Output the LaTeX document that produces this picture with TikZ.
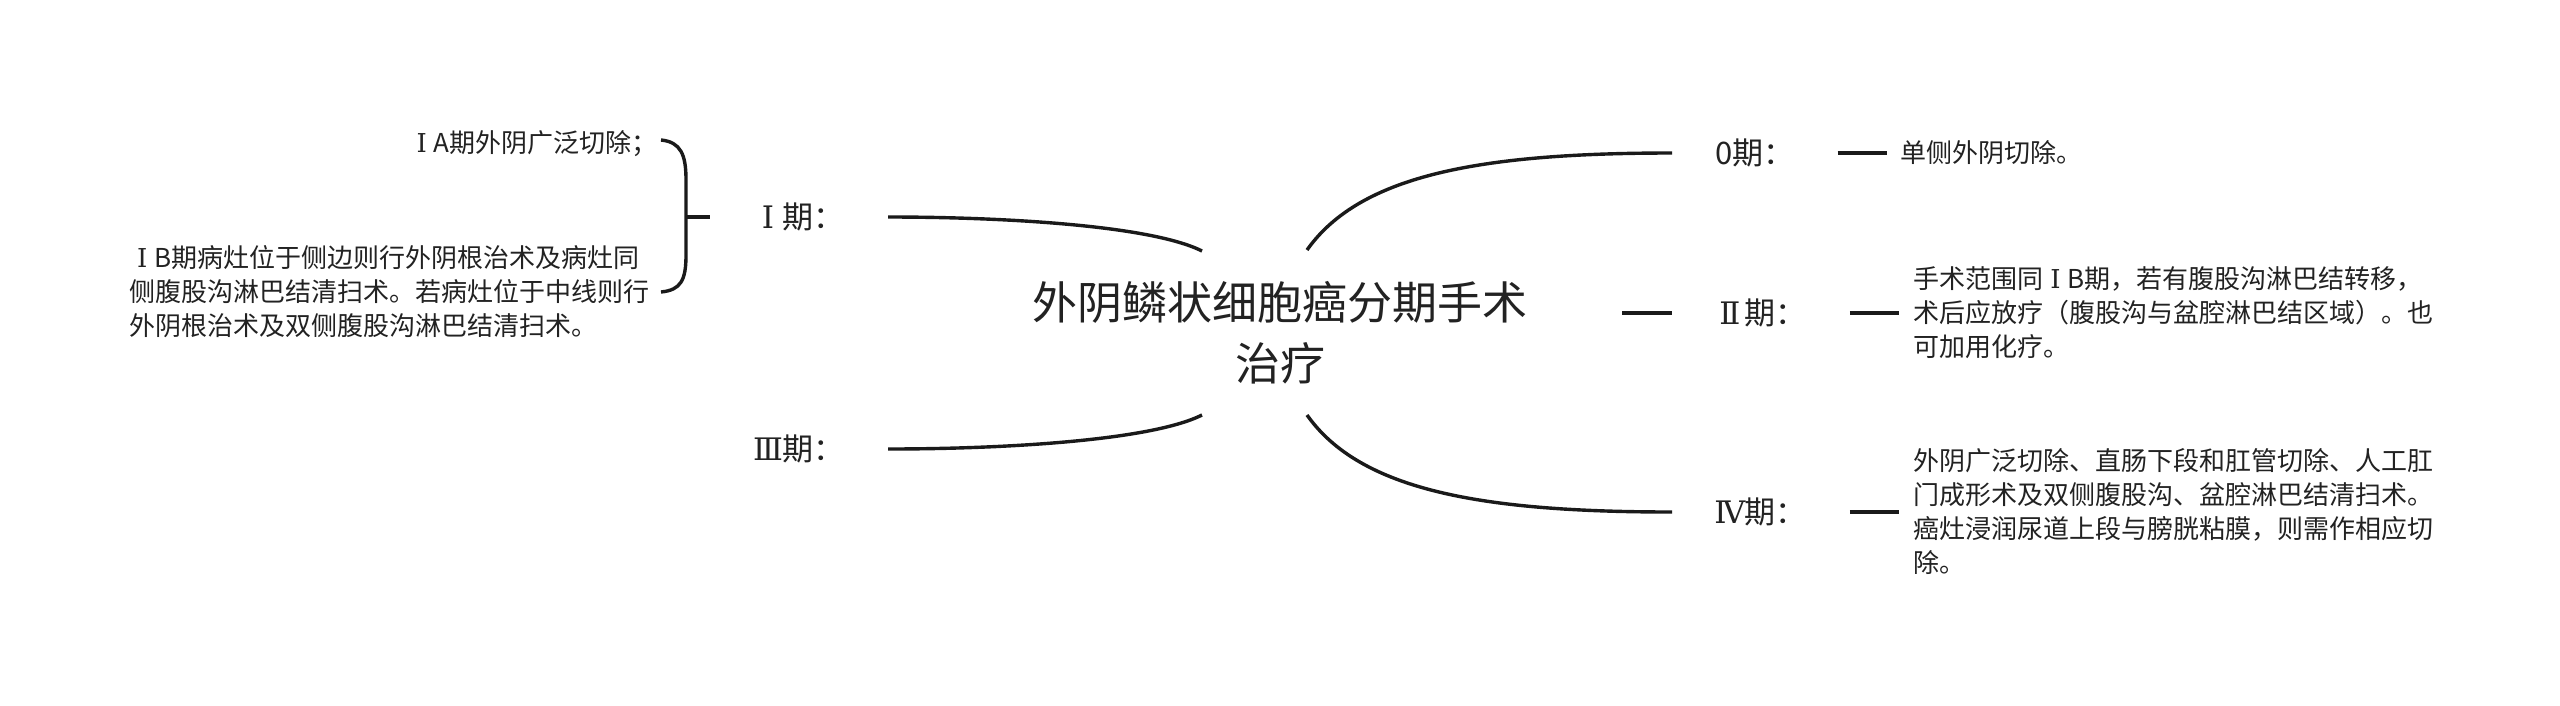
\documentclass[tikz,border=0pt]{standalone}
\usepackage{fontspec}
\setmainfont{Noto Sans CJK SC}
\newfontfamily\rmnfont{DejaVu Serif}
\newcommand\rnum[1]{\makebox[0.95em]{\rmnfont #1}}
\definecolor{txt}{HTML}{222222}
\definecolor{ln}{HTML}{1A1A1A}
\begin{document}
\begin{tikzpicture}[x=1pt,y=-1pt,
  link/.style={line width=3.4pt, draw=ln},
  lab/.style={font=\fontsize{31}{36}\selectfont, inner xsep=43pt, inner ysep=4pt, text=txt},
  det/.style={font=\fontsize{26}{34}\selectfont, align=left, inner xsep=14pt, inner ysep=2pt, text=txt},
  rootnode/.style={font=\fontsize{45}{61}\selectfont, align=center, text=txt}]
\fill[white] (0,0) rectangle (2560,705);
\useasboundingbox (0,0) rectangle (2560,705);

% root
\node[rootnode] (root) at (1280,333) {外阴鳞状细胞癌分期手术\\治疗};
\coordinate (rI)   at (1202,251);
\coordinate (rIII) at (1202,415);
\coordinate (r0)   at (1307,250);
\coordinate (rIV)  at (1307,415);
\coordinate (rII)  at (1622,313);

% stage labels
\node[lab, anchor=east] (lI)   at (888,217) {\rnum{Ⅰ}期：};
\node[lab, anchor=east] (lIII) at (888,449) {\rnum{Ⅲ}期：};
\node[lab, anchor=west] (l0)   at (1672,153) {0期：};
\node[lab, anchor=west] (lII)  at (1672,313) {\rnum{Ⅱ}期：};
\node[lab, anchor=west] (lIV)  at (1672,512) {\rnum{Ⅳ}期：};

% connectors from root
\draw[link] (rI) .. controls (1150,225) and (1000,217) .. (lI.east);
\draw[link] (rIII) .. controls (1150,441) and (1000,449) .. (lIII.east);
\draw[link] (r0) .. controls (1360,175) and (1480,153) .. (l0.west);
\draw[link] (rIV) .. controls (1360,490) and (1480,512) .. (lIV.west);
\draw[link] (rII) -- (lII.west);

% right details
\node[det, anchor=west] (d0) at ([xshift=49pt]l0.east) {单侧外阴切除。};
\node[det, anchor=west] (dII) at ([xshift=49pt]lII.east) {手术范围同\rnum{Ⅰ}B期，若有腹股沟淋巴结转移，\\术后应放疗（腹股沟与盆腔淋巴结区域）。也\\可加用化疗。};
\node[det, anchor=west] (dIV) at ([xshift=49pt]lIV.east) {外阴广泛切除、直肠下段和肛管切除、人工肛\\门成形术及双侧腹股沟、盆腔淋巴结清扫术。\\癌灶浸润尿道上段与膀胱粘膜，则需作相应切\\除。};
\draw[link] (l0.east) -- (d0.west);
\draw[link] (lII.east) -- (dII.west);
\draw[link] (lIV.east) -- (dIV.west);

% left details
\node[det, anchor=east, inner xsep=0pt] (dIA) at (658,144) {\rnum{Ⅰ}A期外阴广泛切除；};
\node[det, anchor=east, inner xsep=0pt] (dIB) at (650,292) {\rnum{Ⅰ}B期病灶位于侧边则行外阴根治术及病灶同\\侧腹股沟淋巴结清扫术。若病灶位于中线则行\\外阴根治术及双侧腹股沟淋巴结清扫术。};
\coordinate (bt) at ([xshift=3pt,yshift=4pt]dIA.east);
\coordinate (bb) at ([xshift=11pt]dIB.east);
\coordinate (bm) at (686,217);
\draw[link] (bt) .. controls +(20,2) and +(0,-25) .. (686,180) -- (686,255) .. controls +(0,25) and +(20,-2) .. (bb);
\draw[link] (bm) -- (lI.west);
\end{tikzpicture}
\end{document}
